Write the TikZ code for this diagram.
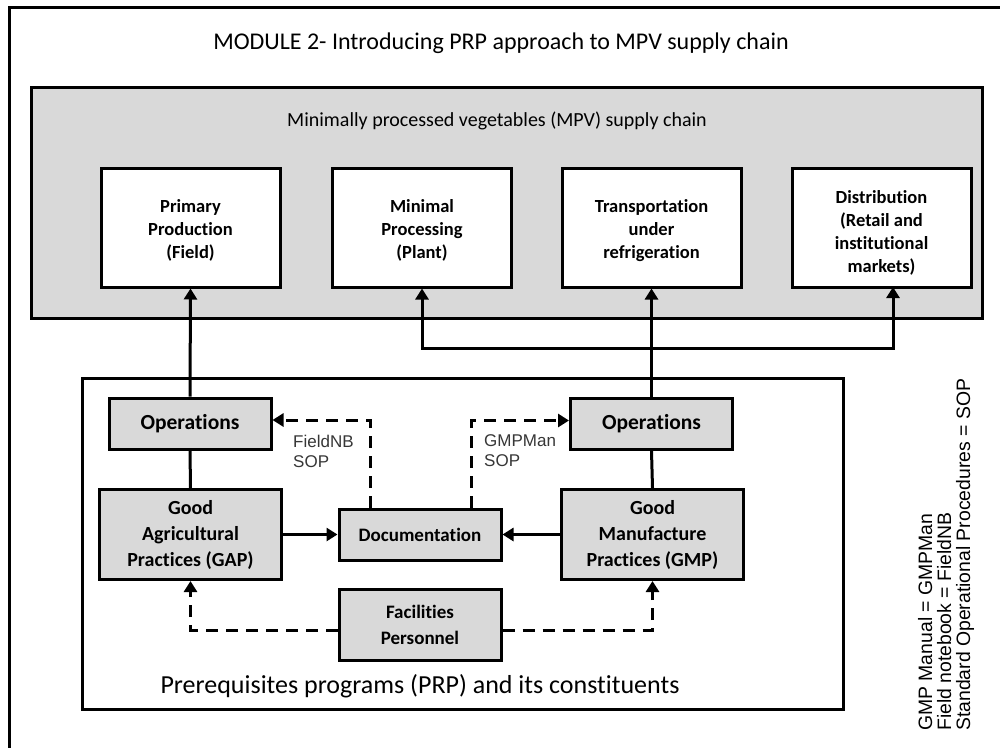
\documentclass[tikz,border=0pt]{standalone}
\usepackage{fontspec}
\setmainfont[Ligatures=NoCommon]{Carlito}
\newfontfamily\arialfont{Liberation Sans}
\usetikzlibrary{arrows.meta}
\definecolor{boxgrey}{RGB}{217,217,217}
\definecolor{notegrey}{RGB}{55,55,55}

\begin{document}
\begin{tikzpicture}[x=1pt,y=-1pt,
  thick line/.style={line width=3pt},
  greybox/.style={draw=black,line width=3pt,fill=boxgrey,inner sep=0pt,align=center},
  whitebox/.style={draw=black,line width=3pt,fill=white,inner sep=0pt,align=center},
  stagebox/.style={whitebox,minimum width=179pt,minimum height=119pt},
  stagetext/.style={align=center,font=\fontsize{18.5}{23}\selectfont\bfseries},
  opbox/.style={greybox,minimum width=162pt,minimum height=51pt,
    font=\fontsize{21.5}{24}\selectfont\bfseries},
  practbox/.style={greybox,minimum width=182pt,minimum height=90pt,
    font=\fontsize{20}{26}\selectfont\bfseries},
  tip/.style={-{Triangle[length=11pt,width=13pt]}},
  link/.style={thick line},
  arr/.style={thick line,tip},
  dashlink/.style={thick line,dash pattern=on 12pt off 8pt,tip},
  doclabel/.style={anchor=north west,inner sep=0pt,align=left,text=notegrey,
    font=\arialfont\fontsize{17}{20}\selectfont},
]
\path[use as bounding box] (0,0) rectangle (1000,747);
\clip (0,0) rectangle (1000,747);
\fill[white] (0,0) rectangle (1000,747);

% page frame (right and bottom sides lie off the page)
\draw[thick line] (9,760) -- (9,7) -- (1010,7);

\node[font=\fontsize{24}{28}\selectfont] (title) at (501,43)
  {MODULE 2- Introducing PRP approach to MPV supply chain};

% supply chain panel
\draw[thick line,fill=boxgrey] (31,87) rectangle (982,318);
\node[font=\fontsize{20}{24}\selectfont] (chain) at (497,121)
  {Minimally processed vegetables (MPV) supply chain};

\node[stagebox] (pp) at (190.5,227.5) {};
\node[stagebox] (mp) at (422,227.5) {};
\node[stagebox] (tr) at (651.5,227.5) {};
\node[stagebox] (di) at (881.5,227.5) {};
\node[stagetext] (pptext) at ([yshift=-3pt]pp.center) {Primary\\Production\\(Field)};
\node[stagetext] (mptext) at ([yshift=-3pt]mp.center) {Minimal\\Processing\\(Plant)};
\node[stagetext] (trtext) at ([yshift=-3pt]tr.center) {Transportation\\under\\refrigeration};
\node[stagetext] (ditext) at ([yshift=-5pt]di.center)
  {Distribution\\(Retail and\\institutional\\markets)};

% prerequisite programs panel
\draw[thick line] (82,378) rectangle (843,709);
\node[font=\fontsize{26}{30}\selectfont] (prp) at (420,686)
  {Prerequisites programs (PRP) and its constituents};

\node[opbox] (opL) at (190,423.5) {Operations};
\node[opbox] (opR) at (651.5,424) {Operations};
\node[practbox] (gap) at (190.5,534.5) {Good\\Agricultural\\Practices (GAP)};
\node[practbox] (gmp) at (652.5,534.5) {Good\\Manufacture\\Practices (GMP)};
\node[opbox,font=\fontsize{19}{23}\selectfont\bfseries] (doc) at (420,534.5) {Documentation};
\node[opbox,minimum height=71pt,font=\fontsize{19}{26}\selectfont\bfseries] (fac) at (420,625)
  {Facilities\\Personnel};

% solid connectors
\draw[arr] (opL.north) -- (pp.south);
\draw[link] (opL.south) -- (gap.north);
\draw[link] (opR.south) -- (gmp.north);
\draw[arr] (opR.north) -- (tr.south);
\draw[arr] (gap.east) -- (doc.west);
\draw[arr] (gmp.west) -- (doc.east);

\coordinate (bus) at (0,348);
\coordinate (dibus) at (893,348);
\coordinate (diin) at (893,287);
\draw[thick line,{Triangle[length=11pt,width=13pt]}-{Triangle[length=11pt,width=13pt]}]
  (mp.south) -- (mp.south |- bus) -- (dibus) -- (diin);

% dashed connectors
\draw[dashlink] ([xshift=-50pt]doc.north) |- ([yshift=3.5pt]opL.east);
\draw[dashlink] ([xshift=51pt]doc.north) |- ([yshift=3.5pt]opR.west);
\draw[dashlink] ([yshift=-5pt]fac.west) -| (gap.south);
\draw[dashlink] ([yshift=-5pt]fac.east) -| (gmp.south);

\node[doclabel] (fnb) at (293,434.5) {FieldNB\\SOP};
\node[doclabel] (gmpman) at (484,434.5) {GMPMan\\SOP};

% abbreviations
\node[rotate=90,anchor=west,inner sep=0pt,align=left,
  font=\arialfont\fontsize{19.4}{19}\selectfont] (abbr) at (946,731)
  {GMP Manual = GMPMan\\Field notebook = FieldNB\\Standard Operational Procedures = SOP};
\end{tikzpicture}
\end{document}
